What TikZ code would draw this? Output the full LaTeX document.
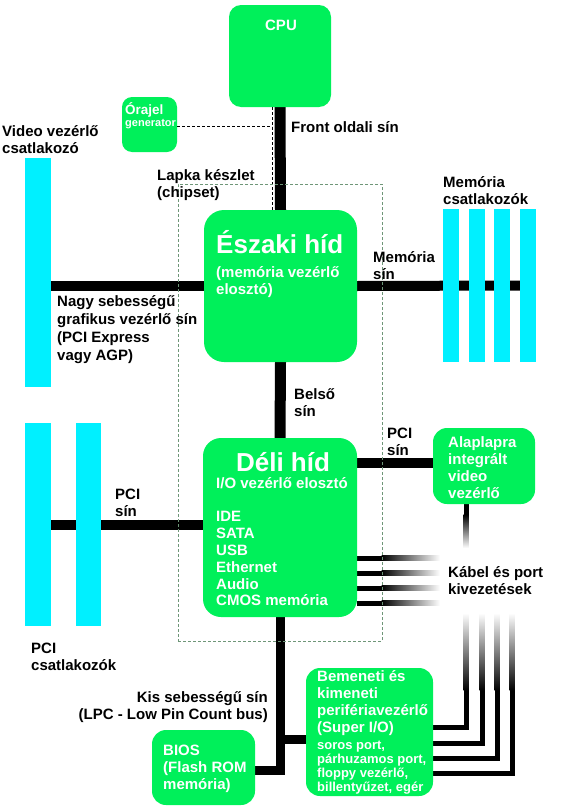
\documentclass[tikz,border=0pt]{standalone}
\usepackage{fontspec}
\setmainfont{Liberation Sans}
\definecolor{boxgreen}{RGB}{0,240,90}
\definecolor{slotcyan}{RGB}{0,240,255}
\definecolor{chipgray}{RGB}{110,150,120}
\pgfdeclarelayer{background}
\pgfsetlayers{background,main}
\begin{document}
\begin{tikzpicture}[x=1pt,y=-1pt,
  box/.style={fill=boxgreen, rounded corners=#1, inner sep=0pt, outer sep=0pt},
  box/.default=14pt,
  slot/.style={fill=slotcyan, inner sep=0pt, outer sep=0pt},
  wtxt/.style={text=white, font=\bfseries\fontsize{15}{17}\selectfont, inner sep=0pt, align=left, anchor=west},
  lbl/.style={text=black, font=\bfseries\fontsize{15}{17}\selectfont, inner sep=0pt, align=left, anchor=west},
  bus/.style={line width=10pt, black},
  port/.style={line width=5pt, black, line join=miter},
  clk/.style={line width=1pt, dash pattern=on 3pt off 2pt, black},
  chip/.style={draw=chipgray, line width=1pt, dash pattern=on 3pt off 2pt, inner sep=0pt, outer sep=0pt},
]
\useasboundingbox (0,0) rectangle (574,811);

% green boxes
\node[box=12pt, minimum width=102pt, minimum height=102pt] (cpu) at (280,56) {};
\node[box=10pt, minimum width=55pt, minimum height=55pt] (ora) at (149.5,124.5) {};
\node[box=20pt, minimum width=153pt, minimum height=152pt] (nb) at (280.5,286) {};
\node[box=18pt, minimum width=154pt, minimum height=179pt] (sb) at (280,527.5) {};
\node[box, minimum width=102pt, minimum height=76pt] (iv) at (484,466) {};
\node[box, minimum width=103pt, minimum height=75pt] (bios) at (203.5,767.5) {};
\node[box, minimum width=127pt, minimum height=128pt] (sio) at (369.5,732) {};

% slots
\node[slot, minimum width=26pt, minimum height=229pt] (vid) at (38,272.5) {};
\node[slot, minimum width=26pt, minimum height=203pt] (pci1) at (38,524.5) {};
\node[slot, minimum width=25pt, minimum height=203pt] (pci2) at (88.5,524.5) {};
\node[slot, minimum width=16pt, minimum height=153pt] (mem1) at (451,285.5) {};
\node[slot, minimum width=16pt, minimum height=153pt] (mem2) at (476.5,285.5) {};
\node[slot, minimum width=16pt, minimum height=153pt] (mem3) at (502,285.5) {};
\node[slot, minimum width=16pt, minimum height=153pt] (mem4) at (528,285.5) {};

% helper coordinates
\coordinate (clkj) at (272,126);
\coordinate (pcir) at (357,463);
\coordinate (lpcb) at (280,770);
\coordinate (lpcs) at (280,739);

\begin{pgfonlayer}{background}
  \draw[bus, line width=11pt] (cpu.south) -- (nb.north);
  \draw[bus, line width=11pt] (nb.south) -- (sb.north);
  \draw[bus] (nb.west) -- (vid.east |- nb.west);
  \draw[bus] (nb.east) -- (mem4.west);
  \draw[bus] (pci1.east) -- (sb.west |- pci1.east);
  \draw[bus] (pcir) -- (pcir -| iv.west);
  \draw[bus, line width=9pt, line join=miter] (sb.south) -- (lpcb) -- (lpcb -| bios.east);
  \draw[bus, line width=9pt] (lpcs) -- (lpcs -| sio.west);
  % cable lines from south bridge
  \foreach \yy in {558,573,588,603}{
    \fill[black] (357,\yy-2.5) rectangle (382,\yy+2.5);
    \shade[left color=black, right color=white] (381.5,\yy-2.5) rectangle (440,\yy+2.5);
  }
  % integrated video output
  \fill[black] (463.5,504) rectangle (468.5,515);
  \shade[top color=black, bottom color=white] (463.5,514.5) rectangle (468.5,548);
  % super I/O outputs
  \foreach \xx/\yy in {466/727, 482/743, 497/758, 512/773}{
    \draw[port] (sio.east |- 0,\yy) -- (\xx,\yy) -- (\xx,690);
    \shade[top color=white, bottom color=black] (\xx-2.5,613) rectangle (\xx+2.5,690.5);
  }
\end{pgfonlayer}

% clock lines
\draw[clk] (ora.east |- clkj) -- (clkj);
\draw[clk] (cpu.south -| clkj) -- (nb.north -| clkj);

% chipset frame
\node[chip, minimum width=204pt, minimum height=457pt] (chipset) at (280,412.5) {};

% texts in boxes
\node[wtxt, anchor=center] (cputxt) at (281,25) {CPU};
\node[wtxt, font=\bfseries\fontsize{13.5}{15}\selectfont] (oratxt1) at (125,110) {Órajel};
\node[wtxt, font=\bfseries\fontsize{11}{13}\selectfont] (oratxt2) at (125,124) {generator};
\node[wtxt, font=\bfseries\fontsize{26}{30}\selectfont] (nbtitle) at (216,242) {Északi híd};
\node[wtxt] (nbsub) at (216,282.5) {(memória vezérlő\\elosztó)};
\node[wtxt, anchor=center, font=\bfseries\fontsize{26}{30}\selectfont] (sbtitle) at (283,462) {Déli híd};
\node[wtxt, font=\bfseries\fontsize{15}{16.8}\selectfont] (sbtxt) at (216,541.5) {I/O vezérlő elosztó\\[17pt]IDE\\SATA\\USB\\Ethernet\\Audio\\CMOS memória};
\node[wtxt] (ivtxt) at (448,467.5) {Alaplapra\\integrált\\video\\vezérlő};
\node[wtxt] (biostxt) at (163,769) {BIOS\\(Flash ROM\\memória)};
\node[wtxt] (siotxt1) at (317,703.5) {Bemeneti és\\kimeneti\\perifériavezérlő\\(Super I/O)};
\node[wtxt, font=\bfseries\fontsize{13}{13.9}\selectfont] (siotxt2) at (317,767.5) {soros port,\\párhuzamos port,\\floppy vezérlő,\\billentyűzet, egér};

% labels
\node[lbl] (fsbl) at (291,127) {Front oldali sín};
\node[lbl] (vidl) at (2,139.5) {Video vezérlő\\csatlakozó};
\node[lbl] (chipl) at (157,185) {Lapka készlet\\(chipset)};
\node[lbl] (meml) at (443,190.5) {Memória\\csatlakozók};
\node[lbl] (membl) at (373,266) {Memória\\sín};
\node[lbl, font=\bfseries\fontsize{15}{18}\selectfont] (agpl) at (57,330) {Nagy sebességű\\grafikus vezérlő sín\\(PCI Express\\vagy AGP)};
\node[lbl] (intl) at (294,402.5) {Belső\\sín};
\node[lbl] (pcirl) at (387,441.5) {PCI\\sín};
\node[lbl] (pcill) at (115,503) {PCI\\sín};
\node[lbl] (cabl) at (448,581) {Kábel és port\\kivezetések};
\node[lbl] (pcisl) at (31,656.5) {PCI\\csatlakozók};
\node[lbl, anchor=east, align=right] (lpcl) at (268,707.5) {Kis sebességű sín\\(LPC - Low Pin Count bus)};
\end{tikzpicture}
\end{document}
